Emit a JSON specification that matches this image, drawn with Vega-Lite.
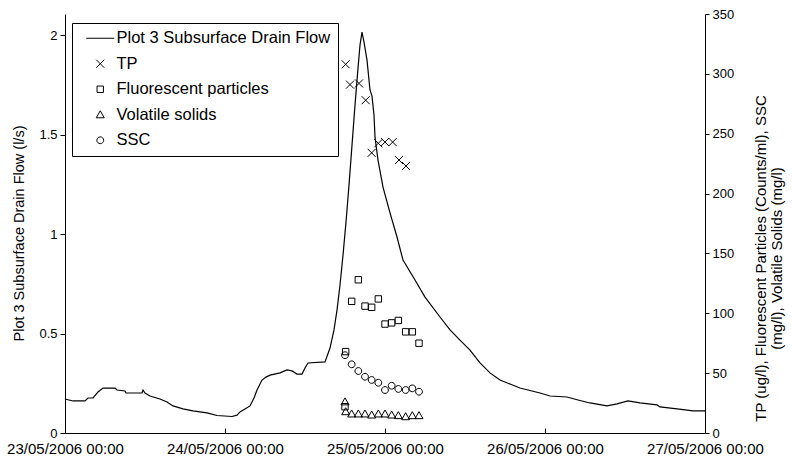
{
  "$schema": "https://vega.github.io/schema/vega-lite/v6.json",
  "width": 640,
  "height": 419,
  "autosize": "none",
  "padding": {"left": 65, "top": 14, "right": 88, "bottom": 28},
  "background": "white",
  "config": {
    "view": {"stroke": null},
    "font": "Liberation Sans",
    "axis": {
      "grid": false,
      "domainColor": "black",
      "tickColor": "black",
      "labelColor": "black",
      "titleColor": "black",
      "labelFont": "Liberation Sans",
      "titleFont": "Liberation Sans",
      "titleFontWeight": "normal"
    }
  },
  "datasets": {
    "flow": [
      {"t": "2006-05-23T00:00:00Z", "flow": 0.171},
      {"t": "2006-05-23T01:12:00Z", "flow": 0.161},
      {"t": "2006-05-23T03:00:00Z", "flow": 0.161},
      {"t": "2006-05-23T03:27:00Z", "flow": 0.176},
      {"t": "2006-05-23T04:12:00Z", "flow": 0.176},
      {"t": "2006-05-23T04:57:00Z", "flow": 0.206},
      {"t": "2006-05-23T05:42:00Z", "flow": 0.226},
      {"t": "2006-05-23T07:30:00Z", "flow": 0.226},
      {"t": "2006-05-23T07:48:00Z", "flow": 0.216},
      {"t": "2006-05-23T09:00:00Z", "flow": 0.211},
      {"t": "2006-05-23T09:09:00Z", "flow": 0.201},
      {"t": "2006-05-23T11:33:00Z", "flow": 0.201},
      {"t": "2006-05-23T11:42:00Z", "flow": 0.216},
      {"t": "2006-05-23T12:00:00Z", "flow": 0.201},
      {"t": "2006-05-23T12:45:00Z", "flow": 0.186},
      {"t": "2006-05-23T14:15:00Z", "flow": 0.171},
      {"t": "2006-05-23T15:18:00Z", "flow": 0.156},
      {"t": "2006-05-23T16:12:00Z", "flow": 0.136},
      {"t": "2006-05-23T17:42:00Z", "flow": 0.121},
      {"t": "2006-05-23T19:12:00Z", "flow": 0.111},
      {"t": "2006-05-23T21:18:00Z", "flow": 0.101},
      {"t": "2006-05-23T22:48:00Z", "flow": 0.088},
      {"t": "2006-05-24T01:03:00Z", "flow": 0.083},
      {"t": "2006-05-24T01:48:00Z", "flow": 0.09},
      {"t": "2006-05-24T02:15:00Z", "flow": 0.106},
      {"t": "2006-05-24T03:00:00Z", "flow": 0.121},
      {"t": "2006-05-24T03:45:00Z", "flow": 0.136},
      {"t": "2006-05-24T04:21:00Z", "flow": 0.176},
      {"t": "2006-05-24T04:48:00Z", "flow": 0.216},
      {"t": "2006-05-24T05:33:00Z", "flow": 0.266},
      {"t": "2006-05-24T06:09:00Z", "flow": 0.281},
      {"t": "2006-05-24T06:45:00Z", "flow": 0.291},
      {"t": "2006-05-24T08:15:00Z", "flow": 0.302},
      {"t": "2006-05-24T09:18:00Z", "flow": 0.317},
      {"t": "2006-05-24T10:03:00Z", "flow": 0.312},
      {"t": "2006-05-24T10:48:00Z", "flow": 0.296},
      {"t": "2006-05-24T11:33:00Z", "flow": 0.296},
      {"t": "2006-05-24T12:00:00Z", "flow": 0.327},
      {"t": "2006-05-24T12:27:00Z", "flow": 0.352},
      {"t": "2006-05-24T15:00:00Z", "flow": 0.357},
      {"t": "2006-05-24T15:45:00Z", "flow": 0.427},
      {"t": "2006-05-24T16:21:00Z", "flow": 0.518},
      {"t": "2006-05-24T16:48:00Z", "flow": 0.618},
      {"t": "2006-05-24T17:15:00Z", "flow": 0.744},
      {"t": "2006-05-24T17:42:00Z", "flow": 0.894},
      {"t": "2006-05-24T18:09:00Z", "flow": 1.06},
      {"t": "2006-05-24T18:36:00Z", "flow": 1.246},
      {"t": "2006-05-24T19:03:00Z", "flow": 1.447},
      {"t": "2006-05-24T19:30:00Z", "flow": 1.648},
      {"t": "2006-05-24T19:57:00Z", "flow": 1.834},
      {"t": "2006-05-24T20:15:00Z", "flow": 1.95},
      {"t": "2006-05-24T20:33:00Z", "flow": 2.015},
      {"t": "2006-05-24T20:51:00Z", "flow": 1.965},
      {"t": "2006-05-24T21:18:00Z", "flow": 1.874},
      {"t": "2006-05-24T21:45:00Z", "flow": 1.724},
      {"t": "2006-05-24T22:03:00Z", "flow": 1.693},
      {"t": "2006-05-24T22:21:00Z", "flow": 1.598},
      {"t": "2006-05-24T22:30:00Z", "flow": 1.487},
      {"t": "2006-05-24T22:57:00Z", "flow": 1.372},
      {"t": "2006-05-24T23:42:00Z", "flow": 1.236},
      {"t": "2006-05-25T00:45:00Z", "flow": 1.106},
      {"t": "2006-05-25T01:48:00Z", "flow": 0.985},
      {"t": "2006-05-25T02:42:00Z", "flow": 0.869},
      {"t": "2006-05-25T04:30:00Z", "flow": 0.769},
      {"t": "2006-05-25T06:00:00Z", "flow": 0.683},
      {"t": "2006-05-25T08:15:00Z", "flow": 0.583},
      {"t": "2006-05-25T09:45:00Z", "flow": 0.518},
      {"t": "2006-05-25T11:15:00Z", "flow": 0.467},
      {"t": "2006-05-25T12:45:00Z", "flow": 0.417},
      {"t": "2006-05-25T14:15:00Z", "flow": 0.352},
      {"t": "2006-05-25T15:45:00Z", "flow": 0.302},
      {"t": "2006-05-25T17:15:00Z", "flow": 0.266},
      {"t": "2006-05-25T18:45:00Z", "flow": 0.246},
      {"t": "2006-05-25T20:15:00Z", "flow": 0.226},
      {"t": "2006-05-25T23:15:00Z", "flow": 0.201},
      {"t": "2006-05-26T00:45:00Z", "flow": 0.186},
      {"t": "2006-05-26T03:18:00Z", "flow": 0.181},
      {"t": "2006-05-26T04:57:00Z", "flow": 0.166},
      {"t": "2006-05-26T06:45:00Z", "flow": 0.151},
      {"t": "2006-05-26T09:18:00Z", "flow": 0.136},
      {"t": "2006-05-26T10:48:00Z", "flow": 0.146},
      {"t": "2006-05-26T12:27:00Z", "flow": 0.161},
      {"t": "2006-05-26T14:15:00Z", "flow": 0.151},
      {"t": "2006-05-26T16:48:00Z", "flow": 0.141},
      {"t": "2006-05-26T17:15:00Z", "flow": 0.131},
      {"t": "2006-05-26T19:48:00Z", "flow": 0.121},
      {"t": "2006-05-26T22:12:00Z", "flow": 0.111},
      {"t": "2006-05-27T00:00:00Z", "flow": 0.111}
    ],
    "samples": [
      {"t": "2006-05-24T18:06:00Z", "series": "TP", "value": 308},
      {"t": "2006-05-24T18:45:00Z", "series": "TP", "value": 291},
      {"t": "2006-05-24T20:06:00Z", "series": "TP", "value": 292},
      {"t": "2006-05-24T21:06:00Z", "series": "TP", "value": 278},
      {"t": "2006-05-24T22:00:00Z", "series": "TP", "value": 234},
      {"t": "2006-05-24T23:00:00Z", "series": "TP", "value": 242},
      {"t": "2006-05-25T00:00:00Z", "series": "TP", "value": 243},
      {"t": "2006-05-25T01:09:00Z", "series": "TP", "value": 243},
      {"t": "2006-05-25T02:06:00Z", "series": "TP", "value": 228},
      {"t": "2006-05-25T03:09:00Z", "series": "TP", "value": 223},
      {"t": "2006-05-24T18:00:00Z", "series": "Fluorescent particles", "value": 22},
      {"t": "2006-05-24T18:06:00Z", "series": "Fluorescent particles", "value": 68},
      {"t": "2006-05-24T19:00:00Z", "series": "Fluorescent particles", "value": 110},
      {"t": "2006-05-24T20:00:00Z", "series": "Fluorescent particles", "value": 128},
      {"t": "2006-05-24T21:00:00Z", "series": "Fluorescent particles", "value": 106},
      {"t": "2006-05-24T22:00:00Z", "series": "Fluorescent particles", "value": 105},
      {"t": "2006-05-24T23:00:00Z", "series": "Fluorescent particles", "value": 112},
      {"t": "2006-05-25T00:00:00Z", "series": "Fluorescent particles", "value": 91},
      {"t": "2006-05-25T01:00:00Z", "series": "Fluorescent particles", "value": 92},
      {"t": "2006-05-25T02:00:00Z", "series": "Fluorescent particles", "value": 94},
      {"t": "2006-05-25T03:06:00Z", "series": "Fluorescent particles", "value": 84.5},
      {"t": "2006-05-25T04:06:00Z", "series": "Fluorescent particles", "value": 84.5},
      {"t": "2006-05-25T05:06:00Z", "series": "Fluorescent particles", "value": 75},
      {"t": "2006-05-24T18:00:00Z", "series": "Volatile solids", "value": 26},
      {"t": "2006-05-24T18:06:00Z", "series": "Volatile solids", "value": 17.8},
      {"t": "2006-05-24T19:00:00Z", "series": "Volatile solids", "value": 15.9},
      {"t": "2006-05-24T20:00:00Z", "series": "Volatile solids", "value": 15.9},
      {"t": "2006-05-24T21:00:00Z", "series": "Volatile solids", "value": 15.9},
      {"t": "2006-05-24T22:00:00Z", "series": "Volatile solids", "value": 15},
      {"t": "2006-05-24T23:00:00Z", "series": "Volatile solids", "value": 15.9},
      {"t": "2006-05-25T00:00:00Z", "series": "Volatile solids", "value": 15.9},
      {"t": "2006-05-25T01:00:00Z", "series": "Volatile solids", "value": 15},
      {"t": "2006-05-25T02:00:00Z", "series": "Volatile solids", "value": 14.5},
      {"t": "2006-05-25T03:06:00Z", "series": "Volatile solids", "value": 13.6},
      {"t": "2006-05-25T04:06:00Z", "series": "Volatile solids", "value": 14.5},
      {"t": "2006-05-25T05:06:00Z", "series": "Volatile solids", "value": 14.5},
      {"t": "2006-05-24T18:00:00Z", "series": "SSC", "value": 65},
      {"t": "2006-05-24T19:00:00Z", "series": "SSC", "value": 57.4},
      {"t": "2006-05-24T20:00:00Z", "series": "SSC", "value": 51.8},
      {"t": "2006-05-24T21:00:00Z", "series": "SSC", "value": 47},
      {"t": "2006-05-24T22:00:00Z", "series": "SSC", "value": 44.3},
      {"t": "2006-05-24T23:00:00Z", "series": "SSC", "value": 42},
      {"t": "2006-05-25T00:00:00Z", "series": "SSC", "value": 35.9},
      {"t": "2006-05-25T01:00:00Z", "series": "SSC", "value": 39.5},
      {"t": "2006-05-25T02:00:00Z", "series": "SSC", "value": 36.8},
      {"t": "2006-05-25T03:06:00Z", "series": "SSC", "value": 35.9},
      {"t": "2006-05-25T04:06:00Z", "series": "SSC", "value": 37.3},
      {"t": "2006-05-25T05:06:00Z", "series": "SSC", "value": 34.5}
    ]
  },
  "layer": [
    {
      "data": {"name": "flow"},
      "mark": {"type": "line", "color": "black", "strokeWidth": 1.2},
      "encoding": {
        "x": {
          "field": "t",
          "type": "temporal",
          "scale": {
            "type": "utc",
            "domain": [
              {"year": 2006, "month": 5, "date": 23, "utc": true},
              {"year": 2006, "month": 5, "date": 27, "utc": true}
            ]
          },
          "axis": {
            "title": null,
            "values": [
              {"year": 2006, "month": 5, "date": 23, "utc": true},
              {"year": 2006, "month": 5, "date": 24, "utc": true},
              {"year": 2006, "month": 5, "date": 25, "utc": true},
              {"year": 2006, "month": 5, "date": 26, "utc": true},
              {"year": 2006, "month": 5, "date": 27, "utc": true}
            ],
            "format": "%d/%m/%Y %H:%M",
            "labelFontSize": 15,
            "labelOverlap": false,
            "labelFlush": false,
            "tickSize": -5,
            "labelPadding": 13,
            "domainWidth": 1,
            "tickWidth": 1
          }
        },
        "y": {
          "field": "flow",
          "type": "quantitative",
          "scale": {"domain": [0, 2.106], "nice": false, "zero": true},
          "axis": {
            "orient": "left",
            "values": [0, 0.5, 1, 1.5, 2],
            "format": "~g",
            "labelFontSize": 13,
            "tickSize": 5,
            "labelPadding": 3,
            "title": "Plot 3 Subsurface Drain Flow (l/s)",
            "titleFontSize": 14.5,
            "titleAngle": 270,
            "titleX": -42,
            "titleY": 219,
            "titleAlign": "center",
            "titleBaseline": "alphabetic"
          }
        }
      }
    },
    {
      "data": {"name": "samples"},
      "mark": {"type": "point", "filled": false, "color": "black", "strokeWidth": 1, "size": 64, "opacity": 1},
      "encoding": {
        "x": {"field": "t", "type": "temporal"},
        "y": {
          "field": "value",
          "type": "quantitative",
          "scale": {"domain": [0, 350], "nice": false},
          "axis": {
            "orient": "right",
            "values": [0, 50, 100, 150, 200, 250, 300, 350],
            "labelFontSize": 13,
            "tickSize": 4,
            "labelPadding": 3,
            "title": ["TP (ug/l), Fluorescent Particles (Counts/ml), SSC", "(mg/l), Volatile Solids (mg/l)"],
            "titleFontSize": 15,
            "titleLineHeight": 16,
            "titleAngle": 270,
            "titleX": 60,
            "titleY": 244,
            "titleAlign": "center",
            "titleBaseline": "alphabetic"
          }
        },
        "shape": {
          "field": "series",
          "type": "nominal",
          "scale": {
            "domain": ["Plot 3 Subsurface Drain Flow", "TP", "Fluorescent particles", "Volatile solids", "SSC"],
            "range": [
              "M-3.5,0L3.5,0",
              "M-1,-1L1,1M-1,1L1,-1",
              "M-0.8,-0.8H0.8V0.8H-0.8Z",
              "M0,-1L1,0.75H-1Z",
              "M0.85,0A0.85,0.85,0,1,1,-0.85,0A0.85,0.85,0,1,1,0.85,0Z"
            ]
          },
          "legend": {
            "title": null,
            "orient": "none",
            "legendX": 7,
            "legendY": 9,
            "direction": "vertical",
            "padding": 7,
            "strokeColor": "black",
            "fillColor": "white",
            "cornerRadius": 0,
            "labelFont": "Liberation Sans",
            "labelFontSize": 16.5,
            "labelColor": "black",
            "labelLimit": 320,
            "symbolSize": 64,
            "symbolStrokeWidth": 1,
            "symbolStrokeColor": "black",
            "symbolFillColor": "transparent",
            "symbolOffset": 13,
            "labelOffset": 8,
            "rowPadding": 8.5
          }
        }
      }
    }
  ],
  "resolve": {"scale": {"y": "independent"}}
}
